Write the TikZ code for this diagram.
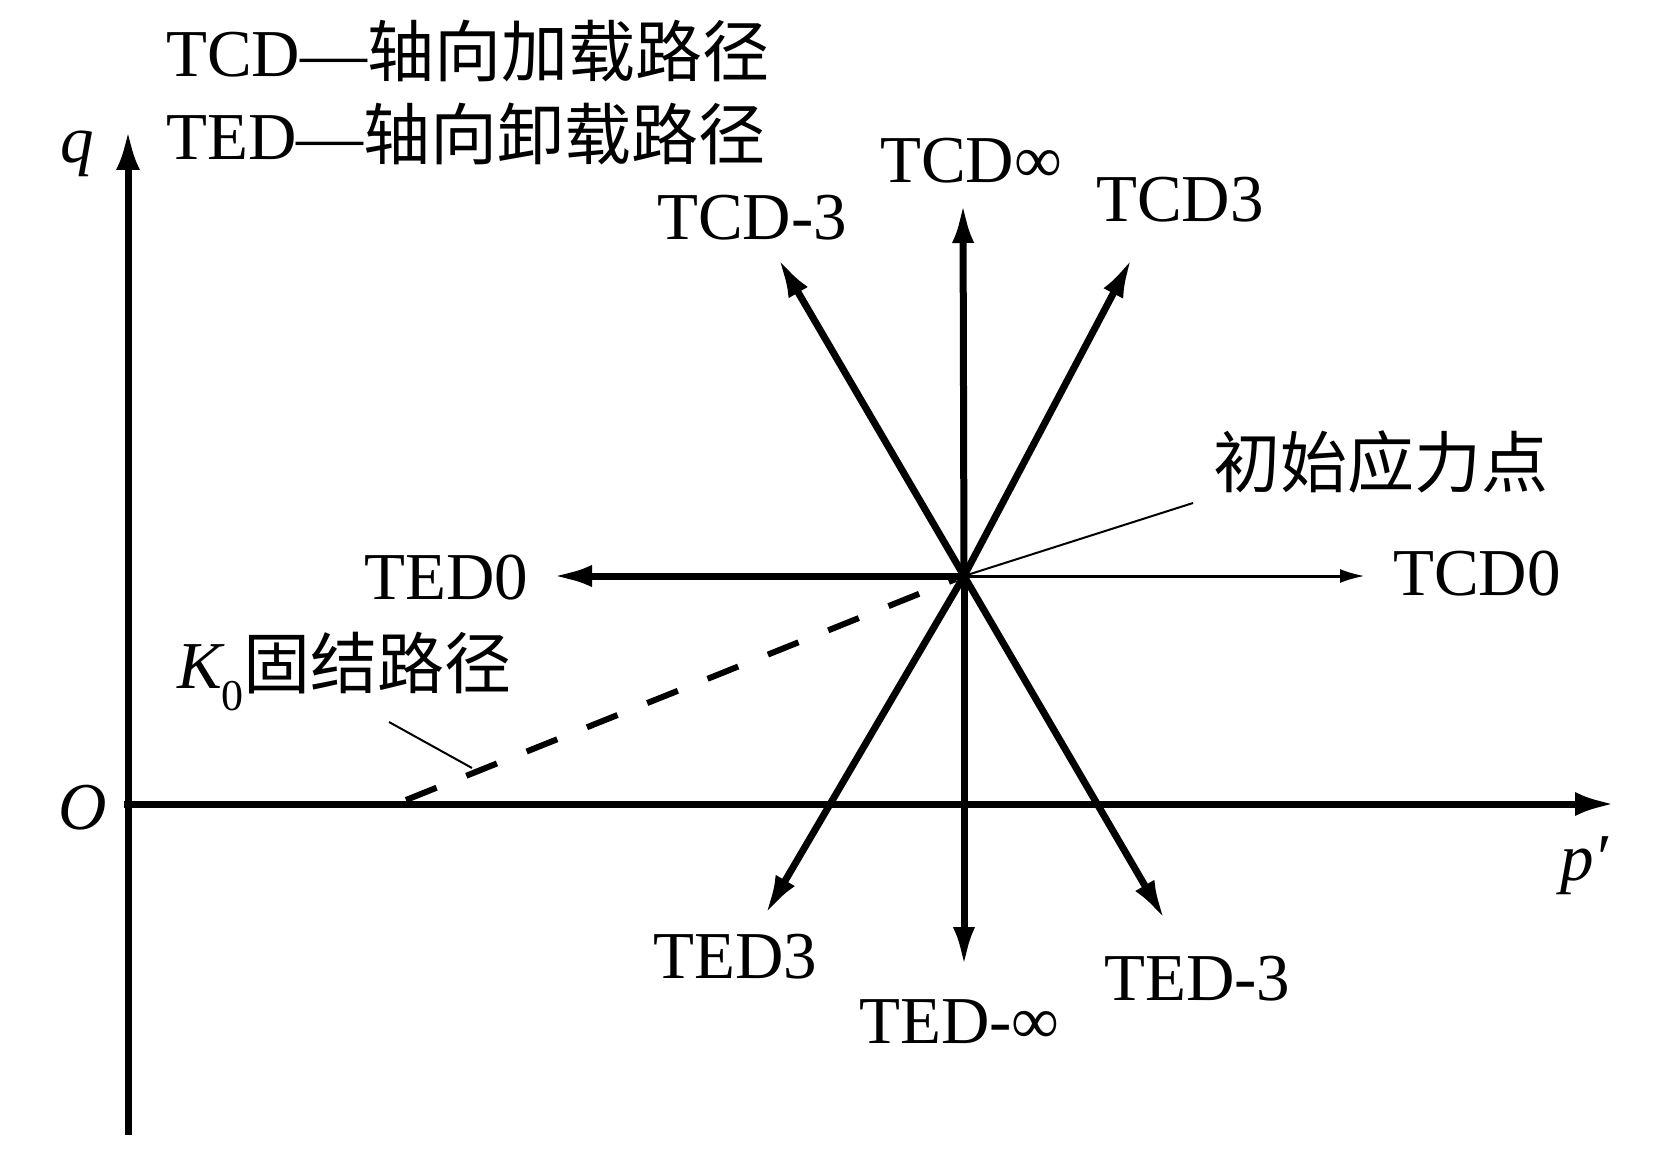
\documentclass[tikz,border=0pt]{standalone}
\usepackage{fontspec}
\setmainfont{Liberation Serif}
\newfontfamily\cjk{Noto Sans CJK SC}
\usetikzlibrary{arrows.meta}
\begin{document}
\begin{tikzpicture}[x=1pt,y=-1pt,
  lbl/.style={inner sep=0pt, anchor=base west, font=\fontsize{67}{80}\selectfont},
  bigarrow/.style={line width=7pt, -{Latex[length=40pt,width=22pt]}},
  smallarrow/.style={line width=3pt, -{Latex[length=25pt,width=14pt]}},
  axisarrow/.style={line width=7pt, -{Latex[length=40pt,width=24pt]}},
  leader/.style={line width=2pt},
  k0path/.style={line width=6pt, dash pattern=on 33pt off 32pt}]
\useasboundingbox (0,0) rectangle (1655,1161);

% axes
\coordinate (qb) at (128,1135);
\coordinate (qt) at (128,130);
\coordinate (o) at (124,804);
\coordinate (pt) at (1615,804);
\draw[axisarrow] (qb) -- (qt);
\draw[axisarrow] (o) -- (pt);

% centre and tips
\coordinate (c) at (964,576);
\coordinate (tcdinf) at (963,203);
\coordinate (tedinf) at (964,967);
\coordinate (tcd3) at (1132,258);
\coordinate (tcdm3) at (778,258);
\coordinate (ted3) at (765,915);
\coordinate (tedm3) at (1165,920);
\coordinate (ted0) at (552,576);
\coordinate (tcd0) at (1365,576);

\draw[bigarrow] (c) -- (tcdinf);
\draw[bigarrow] (c) -- (tedinf);
\draw[bigarrow] (c) -- (tcd3);
\draw[bigarrow] (c) -- (tcdm3);
\draw[bigarrow] (c) -- (ted3);
\draw[bigarrow] (c) -- (tedm3);
\draw[bigarrow] (c) -- (ted0);
\draw[smallarrow] (c) -- (tcd0);

% K0 consolidation path
\coordinate (k0s) at (406,800);
\coordinate (k0e) at (956,579);
\draw[k0path] (k0s) -- (k0e);

% leaders
\coordinate (l1a) at (1193,503);
\draw[leader] (c) -- (l1a);
\coordinate (l2a) at (389,722);
\coordinate (l2b) at (472,768);
\draw[leader] (l2a) -- (l2b);

% labels
\node[lbl] (leg1) at (166,77) {TCD—{\cjk 轴向加载路径}};
\node[lbl] (leg2) at (166,160) {TED—{\cjk 轴向卸载路径}};
\node[lbl] (qlab) at (60,163) {\itshape q};
\node[lbl] (olab) at (58,829) {\itshape O};
\node[lbl] (plab) at (1560,880) {\itshape p\char"2032};
\node[lbl] (ltcdinf) at (880,183) {TCD∞};
\node[lbl] (ltcdm3) at (657,240) {TCD-3};
\node[lbl] (ltcd3) at (1096,222) {TCD3};
\node[lbl] (linit) at (1213,487) {\cjk 初始应力点};
\node[lbl] (ltcd0) at (1393,595) {TCD0};
\node[lbl] (lted0) at (364,599) {TED0};
\node[lbl] (lk0) at (177,688) {{\itshape K}\raisebox{-22pt}{\fontsize{44}{50}\selectfont 0}{\cjk 固结路径}};
\node[lbl] (lted3) at (653,978) {TED3};
\node[lbl] (ltedinf) at (859,1043) {TED-∞};
\node[lbl] (ltedm3) at (1104,1000) {TED-3};
\end{tikzpicture}
\end{document}
